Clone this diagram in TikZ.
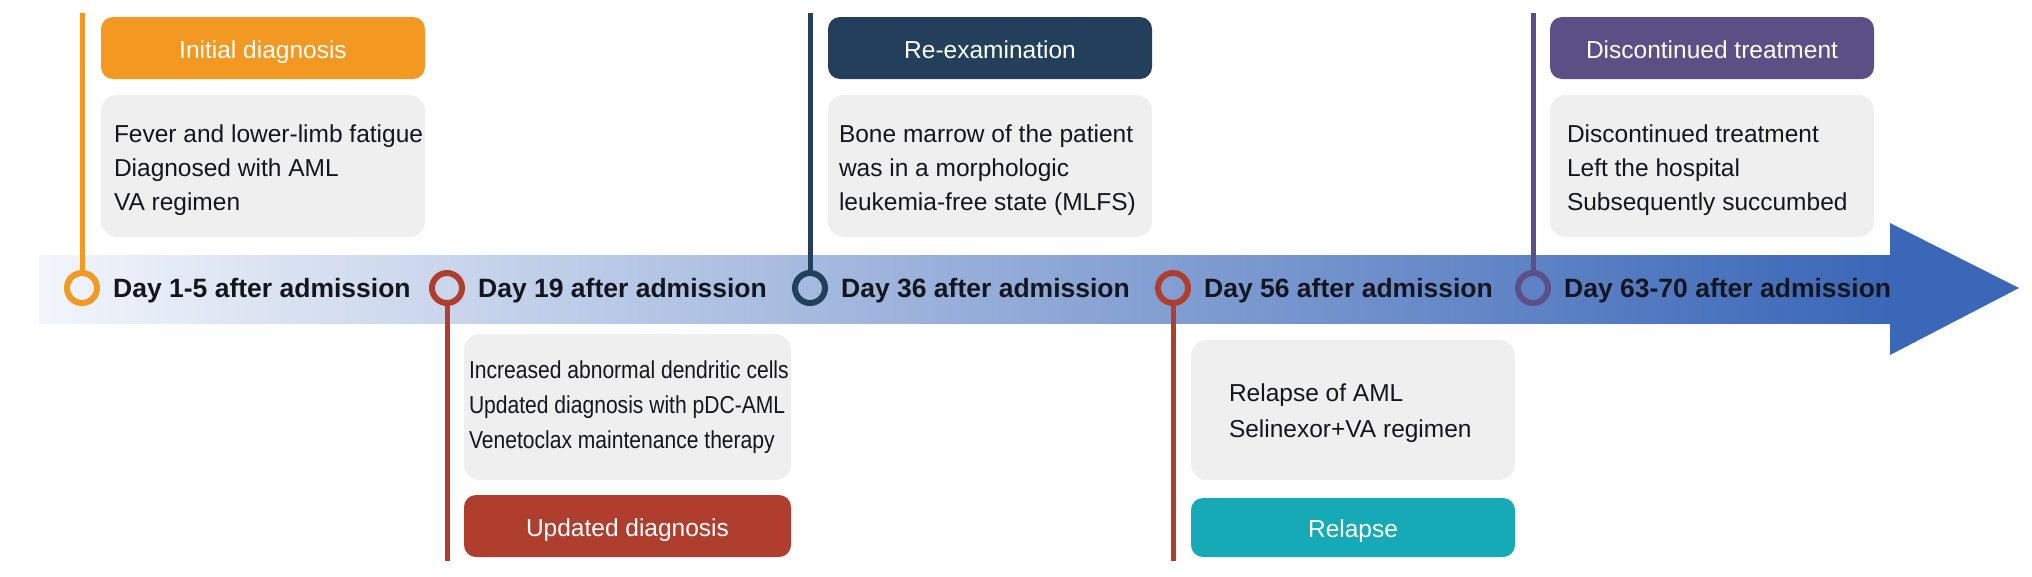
\documentclass[tikz,border=0pt]{standalone}
\usepackage{fontspec}
\setmainfont{Liberation Sans}
\newfontfamily\narrowfont[FakeStretch=0.86]{Liberation Sans}
\usetikzlibrary{positioning}
\definecolor{cOrange}{RGB}{243,152,33}
\definecolor{cNavy}{RGB}{36,63,92}
\definecolor{cPurple}{RGB}{91,79,134}
\definecolor{cRed}{RGB}{176,62,47}
\definecolor{cTeal}{RGB}{21,170,182}
\definecolor{cGrey}{RGB}{239,239,239}
\definecolor{cBandL}{RGB}{242,245,251}
\definecolor{cBandR}{RGB}{58,103,184}
\definecolor{cText}{RGB}{20,22,30}
\begin{document}
\begin{tikzpicture}[x=1pt,y=-1pt,
  titlebox/.style={rounded corners=12pt, minimum width=324pt, minimum height=62pt, inner sep=0pt, text height=20pt, text depth=0pt, text=white, font=\fontsize{24.5}{29}\selectfont},
  bodybox/.style={fill=cGrey, rounded corners=16pt, minimum width=324pt, inner sep=0pt},
  bodytext/.style={align=left, inner sep=0pt, anchor=west, text=cText, font=\fontsize{24.5}{34}\selectfont},
  daylabel/.style={font=\bfseries\fontsize{26.5}{30}\selectfont, text=cText, inner sep=0pt, text depth=0pt, anchor=west},
  marker/.style={circle, line width=6pt, minimum size=30pt, inner sep=0pt},
  stem/.style={line width=5pt}
]
\useasboundingbox (0,0) rectangle (2032,576);
% timeline band and arrow head
\fill[left color=cBandL, right color=cBandR] (39,255) rectangle (1891,323);
\fill[cBandR] (1890,223) -- (2019,288) -- (1890,355) -- cycle;

% top boxes
\node[titlebox, fill=cOrange] (tit1) at (263,48) {Initial diagnosis};
\node[bodybox, minimum height=142pt] (body1) at (263,166) {};
\node[bodytext, right=13pt of body1.west, yshift=-4pt] (txt1) {Fever and lower-limb fatigue\\Diagnosed with AML\\VA regimen};
\node[titlebox, fill=cNavy] (tit3) at (990,48) {Re-examination};
\node[bodybox, minimum height=142pt] (body3) at (990,166) {};
\node[bodytext, right=11pt of body3.west, yshift=-4pt] (txt3) {Bone marrow of the patient\\was in a morphologic\\leukemia-free state (MLFS)};
\node[titlebox, fill=cPurple] (tit5) at (1712,48) {Discontinued treatment};
\node[bodybox, minimum height=142pt] (body5) at (1712,166) {};
\node[bodytext, right=17pt of body5.west, yshift=-4pt] (txt5) {Discontinued treatment\\Left the hospital\\Subsequently succumbed};

% bottom boxes
\node[bodybox, minimum height=146pt, minimum width=327pt] (body2) at (627.5,407) {};
\node[bodytext, right=5pt of body2.west, font=\narrowfont\fontsize{24.5}{35}\selectfont] (txt2) {Increased abnormal dendritic cells\\Updated diagnosis with pDC-AML\\Venetoclax maintenance therapy};
\node[titlebox, fill=cRed, minimum width=327pt] (tit2) at (627.5,526) {Updated diagnosis};
\node[bodybox, minimum height=140pt] (body4) at (1353,410) {};
\node[bodytext, right=38pt of body4.west, yshift=-3pt, font=\fontsize{24.5}{36}\selectfont] (txt4) {Relapse of AML\\Selinexor+VA regimen};
\node[titlebox, fill=cTeal, minimum height=59pt] (tit4) at (1353,527.5) {Relapse};

% markers
\node[marker, draw=cOrange] (c1) at (82,288) {};
\node[marker, draw=cRed] (c2) at (447,288) {};
\node[marker, draw=cNavy] (c3) at (810,288) {};
\node[marker, draw=cRed] (c4) at (1173,288) {};
\node[marker, draw=cPurple] (c5) at (1533,288) {};

% stems
\coordinate (t1) at (82,13);
\coordinate (t3) at (810,13);
\coordinate (t5) at (1533,13);
\coordinate (b2) at (447,561);
\coordinate (b4) at (1173,561);
\draw[stem, cOrange] (t1) -- (c1.north);
\draw[stem, cNavy] (t3) -- (c3.north);
\draw[stem, cPurple] (t5) -- (c5.north);
\draw[stem, cRed] (c2.south) -- (b2);
\draw[stem, cRed] (c4.south) -- (b4);

% day labels
\node[daylabel, right=13pt of c1] (d1) {Day 1-5 after admission};
\node[daylabel, right=13pt of c2] (d2) {Day 19 after admission};
\node[daylabel, right=13pt of c3] (d3) {Day 36 after admission};
\node[daylabel, right=13pt of c4] (d4) {Day 56 after admission};
\node[daylabel, right=13pt of c5] (d5) {Day 63-70 after admission};
\end{tikzpicture}
\end{document}
